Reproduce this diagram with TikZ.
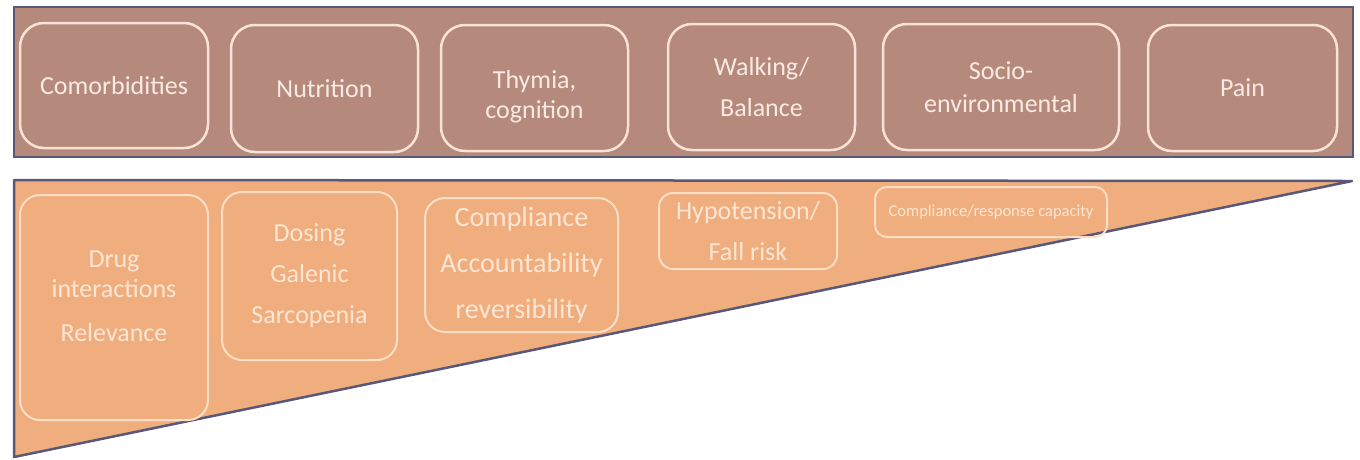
\documentclass[tikz,border=0pt]{standalone}
\usepackage{fontspec}
\setmainfont{Carlito}
\usepackage{tikz}
\usetikzlibrary{
	positioning,
	calc
}

\definecolor{bandrose}{RGB}{181,138,124}
\definecolor{bandsand}{RGB}{240,174,126}
\definecolor{bandedge}{RGB}{88,88,120}
\definecolor{roseline}{RGB}{250,226,212}
\definecolor{rosetext}{RGB}{250,234,226}
\definecolor{sandline}{RGB}{252,222,198}
\definecolor{sandtext}{RGB}{253,230,212}

\begin{document}
\begin{tikzpicture}[
			x=1pt, y=-1pt,
			factor/.style={
				rectangle, draw=roseline, line width=2.5pt, rounded corners=24pt,
				align=center, text=rosetext, inner sep=0pt,
				font=\fontsize{26}{30}\selectfont
			},
			issue/.style={
				rectangle, draw=sandline, line width=2pt, rounded corners=20pt,
				align=center, text=sandtext, inner sep=0pt,
				font=\fontsize{26}{30}\selectfont
			},
			band/.style={draw=bandedge, line width=2.5pt}
			]
			
			\useasboundingbox (0,0) rectangle (1360,459);
			
			% ---------------- top band ----------------
			\fill[band, fill=bandrose] (14,7) rectangle (1353,157);
			
			\node[factor, minimum width=188pt, minimum height=125pt] (comorb) at (114,85.5) {Comorbidities};
			\node[factor, minimum width=187pt, minimum height=127pt] (nutrition) at (324.5,88.5) {Nutrition};
			\node[factor, minimum width=187pt, minimum height=126pt] (thymia) at (534.5,88) {\rule{0pt}{35pt}Thymia,\\cognition};
			\node[factor, minimum width=187pt, minimum height=126pt] (walking) at (761.5,87) {Walking/\\[11pt]Balance};
			\node[factor, minimum width=236pt, minimum height=126pt] (socio) at (1001,87) {Socio-\\[3pt]environmental};
			\node[factor, minimum width=189pt, minimum height=126pt] (pain) at (1242.5,88) {Pain};
			
			% ---------------- bottom wedge ----------------
			\filldraw[band, fill=bandsand, line join=round] (14,180) -- (1352,181) -- (14,457) -- cycle;
			
			\node[issue, minimum width=188pt, minimum height=225pt] (drug) at (114,307.5) {Drug\\interactions\\[14pt]Relevance\\[-8pt]};
			\node[issue, minimum width=175pt, minimum height=168pt] (dosing) at (309.5,276) {Dosing\\[11pt]Galenic\\[11pt]Sarcopenia};
			\node[issue, minimum width=193pt, minimum height=134pt, font=\fontsize{28}{32}\selectfont] (compliance) at (521.5,265) {Compliance\\[14pt]Accountability\\[14pt]reversibility};
			\node[issue, minimum width=178pt, minimum height=76pt, rounded corners=14pt] (hypo) at (748,231) {Hypotension/\\[11pt]Fall risk};
			\node[issue, minimum width=232pt, minimum height=50pt, rounded corners=12pt, font=\fontsize{16.5}{19}\selectfont] (capacity) at (991,212) {Compliance/response capacity};
		\end{tikzpicture}
\end{document}
